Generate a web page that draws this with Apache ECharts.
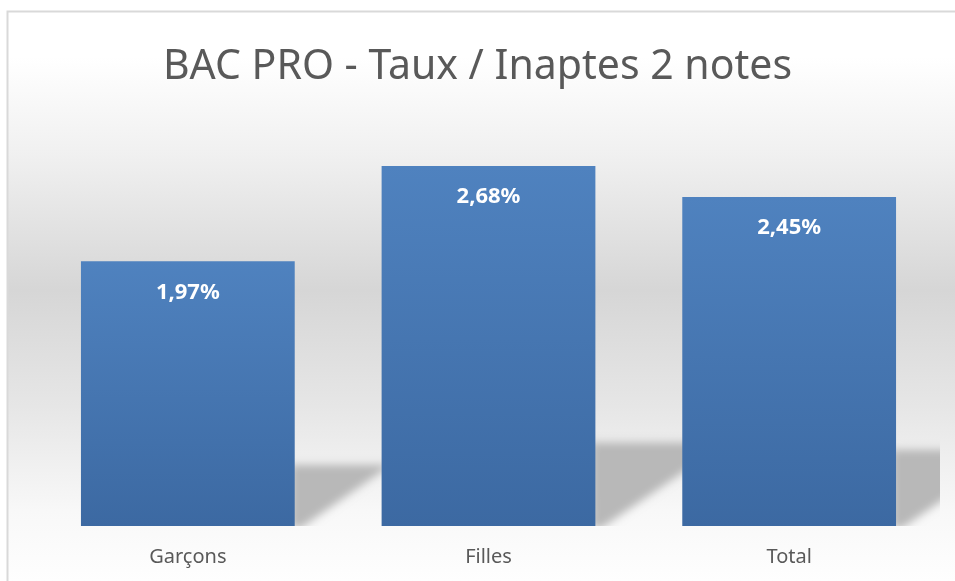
<!DOCTYPE html>
<html>
<head>
<meta charset="utf-8">
<script src="https://cdn.jsdelivr.net/npm/echarts@6/dist/echarts.min.js"></script>
<style>
  html, body { margin: 0; padding: 0; background: #fff; }
  #chart { width: 955px; height: 581px; }
</style>
</head>
<body>
<div id="chart"></div>
<script>
var categories = ['Garçons', 'Filles', 'Total'];
var taux = [1.97, 2.68, 2.45];

var chartDom = document.getElementById('chart');
var myChart = echarts.init(chartDom);

var BAR_RATIO = 0.711;
var SHIFT = 3000; // shape drawn off-screen, only its blurred shadow shows

var option = {
    backgroundColor: '#ffffff',
    animation: false,
    graphic: [
        {
            type: 'rect',
            z: -10,
            silent: true,
            shape: { x: 7.5, y: 11.5, width: 960, height: 580 },
            style: {
                stroke: '#d9d9d9',
                lineWidth: 2,
                fill: {
                    type: 'linear', x: 0, y: 0, x2: 0, y2: 1,
                    colorStops: [
                        { offset: 0, color: '#ffffff' },
                        { offset: 0.08, color: '#ffffff' },
                        { offset: 0.25, color: '#f0f0f0' },
                        { offset: 0.48, color: '#d6d6d6' },
                        { offset: 0.68, color: '#e6e6e6' },
                        { offset: 0.86, color: '#f8f8f8' },
                        { offset: 1, color: '#ffffff' }
                    ]
                }
            }
        }
    ],
    title: {
        text: 'BAC PRO - Taux / Inaptes 2 notes',
        left: 'center',
        top: 42,
        textStyle: {
            color: '#595959',
            fontFamily: 'Noto Sans',
            fontWeight: 'normal',
            fontSize: 41
        }
    },
    grid: {
        left: 37.5,
        right: 15.5,
        top: 123,
        bottom: 55
    },
    xAxis: {
        type: 'category',
        data: categories,
        axisLine: { show: false },
        axisTick: { show: false },
        axisLabel: {
            color: '#595959',
            fontFamily: 'Noto Sans',
            fontSize: 20,
            margin: 21
        }
    },
    yAxis: {
        type: 'value',
        min: 0,
        max: 3,
        show: false,
        splitLine: { show: false }
    },
    series: [
        {
            name: 'ombre',
            type: 'custom',
            z: 1,
            silent: true,
            clip: true,
            data: taux.map(function (v, i) { return [i, v]; }),
            renderItem: function (params, api) {
                var top = api.coord([api.value(0), api.value(1)]);
                var base = api.coord([api.value(0), 0]);
                var bw = api.size([1, 0])[0] * BAR_RATIO;
                var xR = base[0] + bw / 2 - SHIFT;
                var h = (base[1] - top[1]) * 0.235;
                return {
                    type: 'polygon',
                    shape: {
                        points: [
                            [xR - 4, base[1] - h + 1],
                            [xR + 1.55 * h, base[1] - h + 1],
                            [xR + 6, base[1] + 2],
                            [xR - 4, base[1] + 2]
                        ]
                    },
                    style: {
                        fill: '#c0c0c0',
                        shadowBlur: 8,
                        shadowOffsetX: SHIFT,
                        shadowColor: '#b8b8b8'
                    }
                };
            }
        },
        {
            name: 'Taux',
            type: 'bar',
            z: 3,
            barWidth: (BAR_RATIO * 100) + '%',
            data: taux,
            itemStyle: {
                color: {
                    type: 'linear', x: 0, y: 0, x2: 0, y2: 1,
                    colorStops: [
                        { offset: 0, color: '#4f82bf' },
                        { offset: 1, color: '#3c69a2' }
                    ]
                }
            },
            label: {
                show: true,
                position: 'insideTop',
                distance: 20,
                color: '#ffffff',
                fontFamily: 'Noto Sans',
                fontWeight: 'bold',
                fontSize: 22,
                formatter: function (p) {
                    return p.value.toFixed(2).replace('.', ',') + '%';
                }
            }
        }
    ]
};

myChart.setOption(option);
window.addEventListener('resize', function() {
    myChart.resize();
});
</script>
</body>
</html>
